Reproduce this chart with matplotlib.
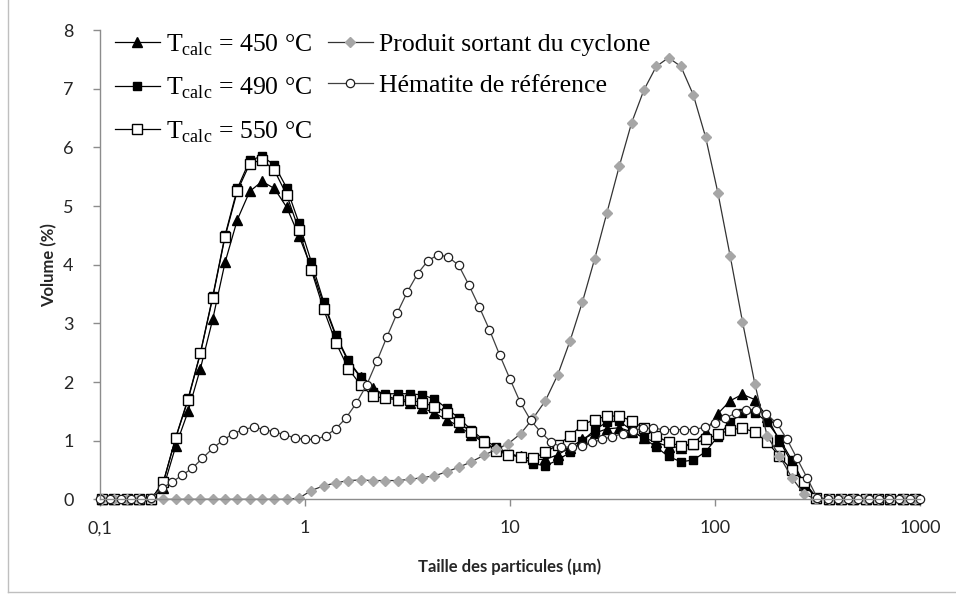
import matplotlib
matplotlib.use("Agg")
import matplotlib.pyplot as plt
from matplotlib.ticker import FixedLocator, FixedFormatter, NullLocator
from matplotlib.lines import Line2D

# Size classes of the calcined samples and cyclone product (µm)
size_a = [0.1021, 0.1173, 0.1347, 0.1547, 0.1777,
          0.204, 0.2343, 0.2691, 0.309, 0.3548, 0.4075, 0.468, 0.5375, 0.6173, 0.7089,
          0.8141, 0.9348, 1.0735, 1.2329, 1.4158, 1.626, 1.867, 2.144, 2.463, 2.828,
          3.248, 3.73, 4.283, 4.919, 5.649, 6.487, 7.45, 8.556, 9.826, 11.28,
          12.96, 14.88, 17.09, 19.63, 22.54, 25.89, 29.73, 34.14, 39.21, 45.03,
          51.71, 59.38, 68.2, 78.32, 89.95, 103.3, 118.6, 136.2, 156.5, 179.7,
          206.4, 237.0, 272.2, 312.6, 358.9, 412.2, 473.5, 543.8, 624.5, 717.2,
          823.6, 945.6]

t450 = [0.0] * 5 + [
    0.20, 0.91, 1.50, 2.23, 3.07, 4.04, 4.77, 5.25, 5.42, 5.30,
    4.98, 4.49, 3.95, 3.33, 2.78, 2.35, 2.08, 1.90, 1.77, 1.70,
    1.64, 1.56, 1.47, 1.36, 1.24, 1.10, 0.97, 0.86, 0.78, 0.73,
    0.68, 0.68, 0.76, 0.88, 1.02, 1.13, 1.20, 1.22, 1.15, 1.05,
    0.97, 0.90, 0.88, 0.95, 1.15, 1.46, 1.68, 1.79, 1.70, 1.40,
    1.00, 0.62, 0.25, 0.02] + [0.0] * 8

t490 = [0.0] * 5 + [
    0.30, 1.06, 1.72, 2.50, 3.46, 4.50, 5.30, 5.78, 5.85, 5.70,
    5.31, 4.71, 4.05, 3.37, 2.80, 2.37, 2.09, 1.83, 1.80, 1.80,
    1.80, 1.78, 1.71, 1.55, 1.38, 1.18, 1.01, 0.90, 0.78, 0.72,
    0.61, 0.57, 0.67, 0.80, 1.00, 1.18, 1.32, 1.33, 1.18, 1.04,
    0.89, 0.73, 0.64, 0.67, 0.81, 1.07, 1.32, 1.47, 1.48, 1.32,
    1.03, 0.67, 0.27, 0.03] + [0.0] * 8

t550 = [0.0] * 5 + [
    0.30, 1.05, 1.70, 2.49, 3.44, 4.48, 5.26, 5.72, 5.79, 5.61,
    5.19, 4.59, 3.91, 3.24, 2.67, 2.23, 1.95, 1.76, 1.72, 1.70,
    1.69, 1.65, 1.58, 1.48, 1.31, 1.14, 0.98, 0.83, 0.76, 0.72,
    0.70, 0.80, 0.93, 1.08, 1.27, 1.36, 1.42, 1.42, 1.34, 1.21,
    1.08, 0.97, 0.91, 0.95, 1.02, 1.11, 1.18, 1.22, 1.14, 0.98,
    0.73, 0.50, 0.30, 0.03] + [0.0] * 8

cyclone = [0.0] * 5 + [
    0.0, 0.0, 0.0, 0.0, 0.0, 0.0, 0.0, 0.0, 0.0, 0.0,
    0.0, 0.02, 0.15, 0.23, 0.28, 0.32, 0.33, 0.32, 0.32, 0.32,
    0.34, 0.37, 0.40, 0.47, 0.55, 0.64, 0.75, 0.85, 0.95, 1.12,
    1.38, 1.68, 2.12, 2.70, 3.36, 4.10, 4.89, 5.68, 6.42, 6.98,
    7.38, 7.53, 7.38, 6.90, 6.18, 5.23, 4.15, 3.03, 1.97, 1.08,
    0.74, 0.37, 0.09, 0.0] + [0.0] * 8

# Size classes of the reference hematite (µm)
size_b = [0.100, 0.112, 0.126, 0.141, 0.158, 0.178, 0.200, 0.224, 0.251, 0.282,
          0.316, 0.355, 0.398, 0.447, 0.501, 0.562, 0.631, 0.708, 0.794, 0.891,
          1.00, 1.12, 1.26, 1.41, 1.58, 1.78, 2.00, 2.24, 2.51, 2.82,
          3.16, 3.55, 3.98, 4.47, 5.01, 5.62, 6.31, 7.08, 7.94, 8.91,
          10.0, 11.2, 12.6, 14.1, 15.8, 17.8, 20.0, 22.4, 25.1, 28.2,
          31.6, 35.5, 39.8, 44.7, 50.1, 56.2, 63.1, 70.8, 79.4, 89.1,
          100, 112, 126, 141, 158, 178, 200, 224, 251, 282,
          316, 355, 398, 447, 501, 562, 631, 708, 794, 891, 1000]

hematite = [0.0] * 5 + [
    0.03, 0.19, 0.29, 0.41, 0.53, 0.70, 0.87, 1.01, 1.12, 1.19,
    1.23, 1.19, 1.15, 1.10, 1.05, 1.02, 1.02, 1.08, 1.20, 1.38,
    1.64, 1.95, 2.35, 2.77, 3.18, 3.54, 3.85, 4.07, 4.17, 4.13,
    3.99, 3.65, 3.28, 2.89, 2.46, 2.05, 1.66, 1.35, 1.15, 0.98,
    0.89, 0.89, 0.91, 0.97, 1.02, 1.07, 1.12, 1.17, 1.21, 1.21,
    1.19, 1.19, 1.19, 1.19, 1.23, 1.30, 1.38, 1.47, 1.52, 1.53,
    1.45, 1.30, 1.03, 0.70, 0.36, 0.02] + [0.0] * 10

x_ticks = [0.1, 1, 10, 100, 1000]
x_tick_labels = ["0,1", "1", "10", "100", "1000"]
y_ticks = [0, 1, 2, 3, 4, 5, 6, 7, 8]

labels = [r"T$_{\mathrm{calc}}$ = 450 °C", r"T$_{\mathrm{calc}}$ = 490 °C",
          r"T$_{\mathrm{calc}}$ = 550 °C", "Produit sortant du cyclone",
          "Hématite de référence"]

plt.rcParams["mathtext.fontset"] = "custom"
plt.rcParams["mathtext.rm"] = "Liberation Serif"

fig = plt.figure(figsize=(9.56, 6.01), dpi=100)
ax = fig.add_axes([0.1046, 0.1692, 0.8577, 0.7807])

axis_grey = "#8c8c8c"

common = dict(clip_on=False)
ax.plot(size_a, t450, color="black", lw=0.9, marker="^", ms=6.5,
        mfc="black", mec="black", label=labels[0], **common)
ax.plot(size_a, t490, color="black", lw=0.9, marker="s", ms=6,
        mfc="black", mec="black", label=labels[1], **common)
ax.plot(size_a, t550, color="black", lw=0.9, marker="s", ms=6.5,
        mfc="white", mec="black", mew=1.0, label=labels[2], **common)
ax.plot(size_a, cyclone, color="#333333", lw=0.9, marker="D", ms=5.5,
        mfc="#a6a6a6", mec="#a6a6a6", label=labels[3], **common)
ax.plot(size_b, hematite, color="#404040", lw=0.9, marker="o", ms=6,
        mfc="white", mec="#202020", mew=0.9, label=labels[4], **common)

ax.set_xscale("log")
ax.set_xlim(0.1, 1000)
ax.set_ylim(0, 8)
ax.xaxis.set_major_locator(FixedLocator(x_ticks))
ax.xaxis.set_major_formatter(FixedFormatter(x_tick_labels))
ax.xaxis.set_minor_locator(NullLocator())
ax.yaxis.set_major_locator(FixedLocator(y_ticks))

for side in ("top", "right"):
    ax.spines[side].set_visible(False)
for side in ("left", "bottom"):
    ax.spines[side].set_color(axis_grey)
    ax.spines[side].set_linewidth(1.0)

ax.tick_params(axis="both", direction="out", length=5, width=1,
               color=axis_grey, labelsize=13, labelcolor="#262626")
ax.tick_params(axis="x", pad=10)
ax.tick_params(axis="y", pad=14)
for lab in ax.get_xticklabels() + ax.get_yticklabels():
    lab.set_fontfamily("Lato")

ax.set_xlabel("Taille des particules (µm)", fontfamily="Lato",
              fontweight="bold", fontsize=12, color="#262626", labelpad=16)
ax.set_ylabel("Volume (%)", fontfamily="Lato", fontweight="bold",
              fontsize=12, color="#262626", labelpad=4)

leg = ax.legend(loc="upper left", bbox_to_anchor=(0.012, 1.006), ncol=2,
                frameon=False, prop={"family": "Liberation Serif", "size": 18.5},
                handlelength=1.75, handletextpad=0.25, columnspacing=0.6,
                labelspacing=0.7, borderaxespad=0.0, borderpad=0.2)

# Chart-area border (left and bottom edges)
border_kw = dict(transform=fig.transFigure, color="#bfbfbf", lw=1.0)
fig.add_artist(Line2D([0.0085, 0.0085], [0.015, 1.0], **border_kw))
fig.add_artist(Line2D([0.0085, 1.0], [0.015, 0.015], **border_kw))

fig.savefig("out.png", dpi=100)
